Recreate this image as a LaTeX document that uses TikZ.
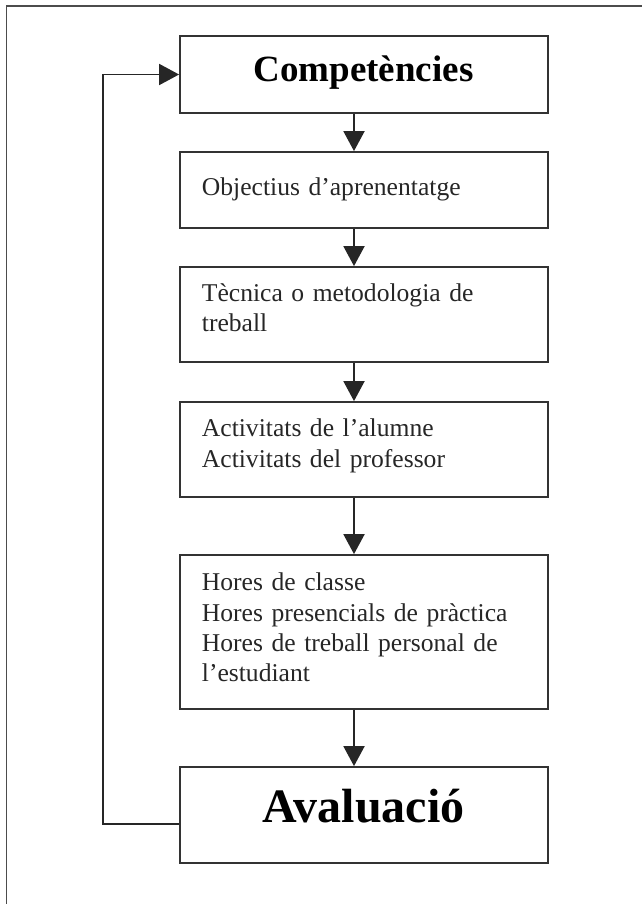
\documentclass[tikz,border=0pt]{standalone}
\usepackage{fontspec}
\setmainfont{Liberation Serif}
\usetikzlibrary{arrows.meta}
\begin{document}
\begin{tikzpicture}[x=1pt,y=-1pt,
  box/.style={draw=black!80,line width=1.8pt,rectangle,minimum width=368pt,inner sep=0pt},
  small/.style={anchor=base west,inner sep=0pt,text width=340pt,align=left,text=black!85,font=\fontsize{25.6}{30.3}\selectfont},
  conn/.style={draw=black!85,line width=1.9pt,-{Triangle[length=20pt,width=21pt]}},
  frame/.style={draw=black!70,line width=1.4pt}]
\useasboundingbox (0,0) rectangle (641,904);
\draw[frame] (6.5,910) -- (6.5,6) -- (645,6);
% boxes
\node[box,minimum height=77pt] (comp) at (364,74.5) {};
\node[box,minimum height=76pt] (obj) at (364,190) {};
\node[box,minimum height=95pt] (tec) at (364,314.5) {};
\node[box,minimum height=95pt] (act) at (364,449.5) {};
\node[box,minimum height=154pt] (hor) at (364,632) {};
\node[box,minimum height=96pt] (aval) at (364,815) {};
% texts
\node[anchor=base,inner sep=0pt,font=\fontsize{37}{44}\selectfont\bfseries] (tcomp) at (363.5,82) {Competències};
\node[small] (tobj) at (201.7,195.5) {Objectius d’aprenentatge};
\node[small] (ttec) at (201.7,301) {Tècnica o metodologia de\\treball};
\node[small] (tact) at (201.7,436.7) {Activitats de l’alumne\\Activitats del professor};
\node[small] (thor) at (201.7,590.7) {Hores de classe\\Hores presencials de pràctica\\Hores de treball personal de\\l’estudiant};
\node[anchor=base,inner sep=0pt,font=\fontsize{48}{56}\selectfont\bfseries] (taval) at (363.7,822.7) {Avaluació};
% connectors
\draw[conn] ([xshift=-10pt]comp.south) -- ([xshift=-10pt]obj.north);
\draw[conn] ([xshift=-10pt]obj.south) -- ([xshift=-10pt]tec.north);
\draw[conn] ([xshift=-10pt]tec.south) -- ([xshift=-10pt]act.north);
\draw[conn] ([xshift=-10pt]act.south) -- ([xshift=-10pt]hor.north);
\draw[conn] ([xshift=-10pt]hor.south) -- ([xshift=-10pt]aval.north);
\coordinate (fb) at (103.3,824.3);
\draw[conn] ([yshift=-9.3pt]aval.west) -- (fb) |- (comp.west);
\end{tikzpicture}
\end{document}
